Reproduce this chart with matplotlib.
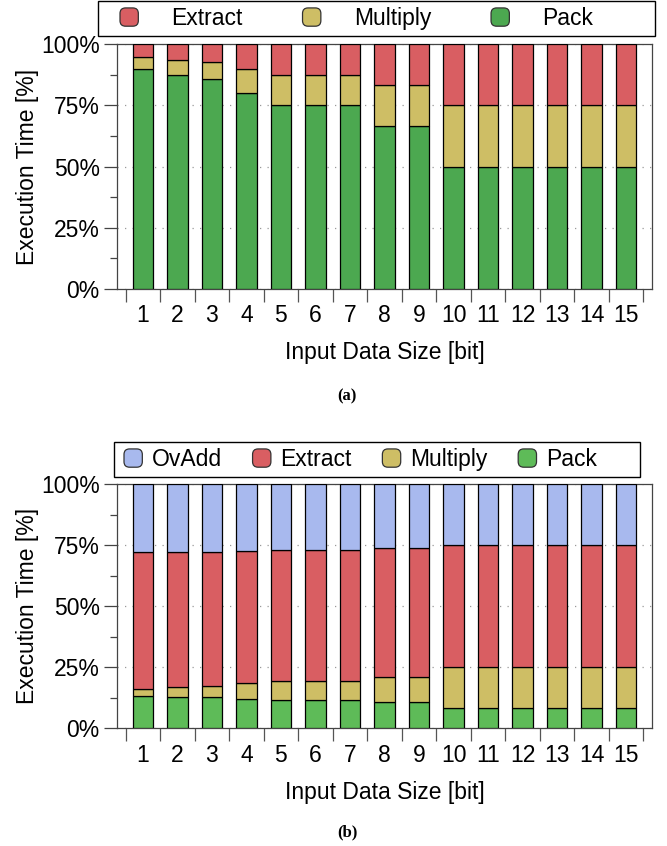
import numpy as np
import matplotlib
matplotlib.use("Agg")
import matplotlib.pyplot as plt
from matplotlib.patches import FancyBboxPatch, Patch, Rectangle
from matplotlib.legend_handler import HandlerPatch

plt.rcParams['font.family'] = ['Liberation Sans', 'DejaVu Sans']

# Data
sizes = [str(i) for i in range(1, 16)]

# (a) share of execution time [%]
pack_a = [90, 87.5, 85.7, 80, 75, 75, 75, 66.7, 66.7, 50, 50, 50, 50, 50, 50]
multiply_a = [5, 6.25, 7.15, 10, 12.5, 12.5, 12.5, 16.65, 16.65, 25, 25, 25, 25, 25, 25]
extract_a = [5, 6.25, 7.15, 10, 12.5, 12.5, 12.5, 16.65, 16.65, 25, 25, 25, 25, 25, 25]

# (b) share of execution time [%]
pack_b = [13.1, 13.0, 12.7, 12.2, 11.6, 11.6, 11.6, 10.7, 10.7, 8.5, 8.5, 8.5, 8.5, 8.5, 8.5]
multiply_b = [3.2, 3.8, 4.5, 6.2, 7.8, 7.8, 7.8, 10.3, 10.3, 16.5, 16.5, 16.5, 16.5, 16.5, 16.5]
extract_b = [55.8, 55.4, 55.2, 54.4, 53.8, 53.8, 53.8, 52.8, 52.8, 50, 50, 50, 50, 50, 50]
ovadd_b = [27.9, 27.8, 27.6, 27.2, 26.8, 26.8, 26.8, 26.2, 26.2, 25, 25, 25, 25, 25, 25]

yticks = [0, 25, 50, 75, 100]
ytick_labels = ['0%', '25%', '50%', '75%', '100%']

RED = '#D95E62'
YELLOW = '#CEBE65'
GREEN_A = '#4CA850'
GREEN_B = '#5EBB58'
BLUE = '#A8B9EE'

FS = 16.5
W, H = 667, 846

fig = plt.figure(figsize=(W / 100, H / 100), dpi=100)


def rounded_handle(legend, orig_handle, xdescent, ydescent, width, height, fontsize):
    return FancyBboxPatch((-xdescent, -ydescent), width, height,
                          boxstyle="round,pad=0,rounding_size=4")


def draw_panel(ax, stacks, colors):
    x = np.arange(1, len(sizes) + 1)
    bottom = np.zeros(len(sizes))
    for vals, col in zip(stacks, colors):
        ax.bar(x, vals, width=0.6, bottom=bottom, color=col,
               edgecolor='black', linewidth=0.9, zorder=3)
        bottom += np.array(vals)

    ax.set_xlim(0.25, 15.75)
    ax.set_ylim(0, 100)

    # boundaries get the tick marks, centres get the labels
    ax.set_xticks(np.arange(0.5, 16, 1))
    ax.set_xticklabels([])
    ax.set_xticks(x, minor=True)
    ax.set_xticklabels(sizes, minor=True, fontsize=FS)
    ax.tick_params(axis='x', which='major', length=9.5, width=0.9, color='#555')
    ax.tick_params(axis='x', which='minor', length=0, pad=11)

    ax.set_yticks(yticks)
    ax.set_yticklabels(ytick_labels, fontsize=FS)
    ax.set_yticks([12.5, 37.5, 62.5, 87.5], minor=True)
    ax.tick_params(axis='y', which='major', length=9.5, width=0.9, color='#444', pad=3)
    ax.tick_params(axis='y', which='minor', length=5, width=0.9, color='#444')

    ax.yaxis.grid(True, which='major', linestyle=(0, (1, 5)), color='#999', linewidth=0.9)
    ax.set_axisbelow(True)
    for s in ax.spines.values():
        s.set_color('#444')
        s.set_linewidth(0.9)

    ax.set_xlabel('Input Data Size [bit]', fontsize=FS)
    ax.set_ylabel('Execution Time [%]', fontsize=FS)


def add_legend(labels, colors, left, right, top, bottom, inset, textpad, colspace):
    # frame drawn by hand so it matches the reference box
    fig.add_artist(Rectangle((left / W, 1 - bottom / H), (right - left) / W,
                             (bottom - top) / H, transform=fig.transFigure,
                             facecolor='white', edgecolor='black', linewidth=1.0))
    handles = [Patch(facecolor=c, edgecolor='#333', linewidth=0.9) for c in colors]
    fig.legend(handles, labels, loc='center left',
               bbox_to_anchor=((left + inset) / W, 1 - (top + bottom) / 2 / H),
               ncol=len(labels), frameon=False, fontsize=FS, borderpad=0,
               borderaxespad=0, handlelength=0.8, handleheight=0.85,
               handletextpad=textpad, columnspacing=colspace,
               handler_map={Patch: HandlerPatch(patch_func=rounded_handle)})


# (a)
ax1 = fig.add_axes([117 / W, 1 - 289 / H, 535 / W, 244.7 / H])
draw_panel(ax1, [pack_a, multiply_a, extract_a], [GREEN_A, YELLOW, RED])
ax1.xaxis.set_label_coords(0.5, (289 - 352) / 244.7)
ax1.xaxis.label.set_va('center')
ax1.yaxis.set_label_coords((28 - 117) / 535, 0.5)
ax1.yaxis.label.set_va('center')
add_legend(['Extract', 'Multiply', 'Pack'], [RED, YELLOW, GREEN_A],
           98, 655, 1, 36, 22, 1.45, 2.6)
fig.text(347 / W, 1 - 396 / H, '(a)', ha='center', va='center',
         family='Liberation Serif', fontweight='bold', fontsize=12)

# (b)
ax2 = fig.add_axes([117 / W, 1 - 728.3 / H, 535 / W, 244 / H])
draw_panel(ax2, [pack_b, multiply_b, extract_b, ovadd_b], [GREEN_B, YELLOW, RED, BLUE])
ax2.xaxis.set_label_coords(0.5, (728.3 - 792) / 244)
ax2.xaxis.label.set_va('center')
ax2.yaxis.set_label_coords((28 - 117) / 535, 0.5)
ax2.yaxis.label.set_va('center')
add_legend(['OvAdd', 'Extract', 'Multiply', 'Pack'], [BLUE, RED, YELLOW, GREEN_B],
           114, 640, 442, 477, 10, 0.4, 1.35)
fig.text(347 / W, 1 - 832 / H, '(b)', ha='center', va='center',
         family='Liberation Serif', fontweight='bold', fontsize=12)

fig.savefig('out.png', dpi=100)
